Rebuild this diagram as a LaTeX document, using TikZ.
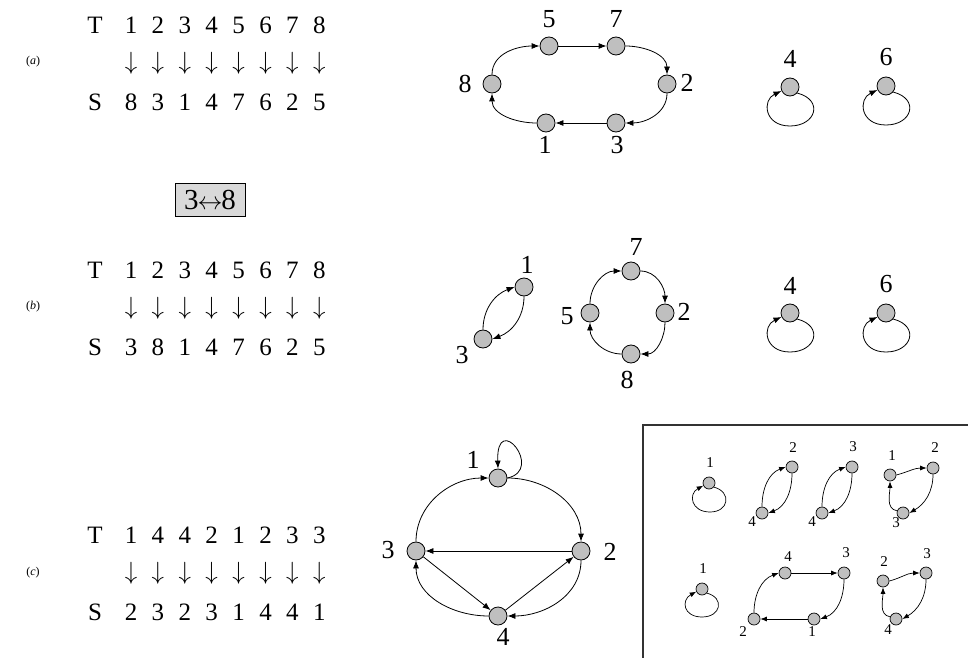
\documentclass[tikz,border=0pt]{standalone}
\usepackage{fontspec}
\setmainfont{Liberation Serif}
\usetikzlibrary{arrows.meta}

\tikzset{
  vtx/.style={circle, draw, line width=0.8pt, fill=gray!50, inner sep=0pt, minimum size=18pt},
  svtx/.style={circle, draw, line width=0.7pt, fill=gray!50, inner sep=0pt, minimum size=12pt},
  arr/.style={line width=0.8pt, -{Latex[length=8pt,width=6pt]}},
  sarr/.style={line width=0.7pt, -{Latex[length=6.5pt,width=5pt]}},
  lbl/.style={inner sep=0pt, font=\fontsize{26}{30}\selectfont},
  slbl/.style={inner sep=0pt, font=\fontsize{15}{18}\selectfont},
  tab/.style={inner sep=0pt, font=\fontsize{25}{30}\selectfont},
  darr/.style={inner sep=0pt, font=\fontsize{29}{32}\selectfont},
  tag/.style={inner sep=0pt, font=\fontsize{12}{14}\selectfont},
}

\newcommand\permrows[4]{%
  % #1 prefix, #2 y of top row, #3 top entries, #4 bottom entries
  \node[tab] (#1T) at (95,-#2) {T};
  \node[tab] (#1S) at (95,-#2-77) {S};
  \foreach \v [count=\i] in {#3} {
    \node[tab] (#1t\i) at ({131+26.9*(\i-1)},-#2) {\v};
    \node[darr] (#1a\i) at ({131+26.9*(\i-1)},-#2-38) {$\downarrow$};
  }
  \foreach \v [count=\i] in {#4} {
    \node[tab] (#1s\i) at ({131+26.9*(\i-1)},-#2-77) {\v};
  }
}

\begin{document}
\begin{tikzpicture}[x=1pt,y=1pt]
\useasboundingbox (0,0) rectangle (968,-658);

% ---------- tables ----------
\node[tag] (taga) at (33,-62) {(\textit{a})};
\permrows{ta}{25}{1,2,3,4,5,6,7,8}{8,3,1,4,7,6,2,5}
\node[draw, line width=0.8pt, fill=gray!30, minimum width=70pt, minimum height=33pt,
      inner sep=0pt, font=\fontsize{29}{32}\selectfont] (swap) at (210,-200)
      {3\kern-1pt$\leftrightarrow$\kern-1pt8};

\node[tag] (tagb) at (33,-307) {(\textit{b})};
\permrows{tb}{270}{1,2,3,4,5,6,7,8}{3,8,1,4,7,6,2,5}

\node[tag] (tagc) at (33,-573) {(\textit{c})};
\permrows{tc}{535}{1,4,4,2,1,2,3,3}{2,3,2,3,1,4,4,1}

% ---------- graph (a) ----------
\node[vtx] (a5) at (549,-46) {};
\node[vtx] (a7) at (616,-46) {};
\node[vtx] (a2) at (667,-84) {};
\node[vtx] (a3) at (616,-123) {};
\node[vtx] (a1) at (546,-123) {};
\node[vtx] (a8) at (492,-84) {};
\node[lbl] (la5) at (549,-19) {5};
\node[lbl] (la7) at (616,-19) {7};
\node[lbl] (la2) at (687,-83) {2};
\node[lbl] (la3) at (617,-145) {3};
\node[lbl] (la1) at (545,-145) {1};
\node[lbl] (la8) at (465,-84) {8};
\draw[arr] (a8.north) to[out=90,in=180] (a5.west);
\draw[arr] (a5) -- (a7);
\draw[arr] (a7.east) to[out=0,in=90] (a2.north);
\draw[arr] (a2.south) to[out=-90,in=0] (a3.east);
\draw[arr] (a3) -- (a1);
\draw[arr] (a1.west) to[out=180,in=-90] (a8.south);

\node[vtx] (a4) at (790,-87) {};
\node[lbl] (la4) at (790,-59) {4};
\draw[arr] (a4.-40) .. controls (824,-100) and (816,-126) .. (790,-126)
  .. controls (764,-126) and (762,-100) .. (a4.205);
\node[vtx] (a6) at (886,-86) {};
\node[lbl] (la6) at (886,-57) {6};
\draw[arr] (a6.-40) .. controls (920,-99) and (912,-125) .. (886,-125)
  .. controls (860,-125) and (858,-99) .. (a6.205);

% ---------- graph (b) ----------
\node[vtx] (b1) at (524,-287) {};
\node[vtx] (b3) at (483,-339) {};
\node[lbl] (lb1) at (527,-265) {1};
\node[lbl] (lb3) at (462,-355) {3};
\draw[arr] (b3.north) to[out=90,in=200] (b1.west);
\draw[arr] (b1.south) to[out=-90,in=20] (b3.east);

\node[vtx] (b7) at (631,-271) {};
\node[vtx] (b2) at (665,-313) {};
\node[vtx] (b8) at (631,-354) {};
\node[vtx] (b5) at (590,-313) {};
\node[lbl] (lb7) at (636,-247) {7};
\node[lbl] (lb2) at (684,-312) {2};
\node[lbl] (lb8) at (627,-380) {8};
\node[lbl] (lb5) at (567,-316) {5};
\draw[arr] (b5.north) to[out=90,in=180] (b7.west);
\draw[arr] (b7.east) to[out=0,in=90] (b2.north);
\draw[arr] (b2.south) to[out=-90,in=0] (b8.east);
\draw[arr] (b8.west) to[out=180,in=-90] (b5.south);

\node[vtx] (b4) at (790,-313) {};
\node[lbl] (lb4) at (790,-286) {4};
\draw[arr] (b4.-40) .. controls (824,-326) and (816,-352) .. (790,-352)
  .. controls (764,-352) and (762,-326) .. (b4.205);
\node[vtx] (b6) at (886,-313) {};
\node[lbl] (lb6) at (886,-284) {6};
\draw[arr] (b6.-40) .. controls (920,-326) and (912,-352) .. (886,-352)
  .. controls (860,-352) and (858,-326) .. (b6.205);

% ---------- graph (c) ----------
\node[vtx] (c1) at (498,-478) {};
\node[vtx] (c2) at (581,-551) {};
\node[vtx] (c3) at (416,-551) {};
\node[vtx] (c4) at (498,-616) {};
\node[lbl] (lc1) at (473,-460) {1};
\node[lbl] (lc2) at (610,-552) {2};
\node[lbl] (lc3) at (388,-550) {3};
\node[lbl] (lc4) at (503,-637) {4};
\draw[arr] (c1.east) .. controls (545,-470) and (496,-410) .. (c1.north);
\draw[arr] (c3.north) to[out=90,in=180] (c1.west);
\draw[arr] (c1.east) to[out=0,in=90] (c2.north);
\draw[arr] (c2) -- (c3);
\draw[arr] (c3) -- (c4);
\draw[arr] (c4) -- (c2);
\draw[arr] (c2.south) to[out=-90,in=0] (c4.east);
\draw[arr] (c4.west) to[out=180,in=-90] (c3.south);

% ---------- panel of cycle decompositions ----------
\draw[line width=1.2pt, black!80] (968,-425) -| (643,-658);

% first row
\node[svtx] (p1) at (709,-483) {};
\node[slbl] (lp1) at (710,-463) {1};
\draw[sarr] (p1.-40) .. controls (732,-492) and (729,-512) .. (710,-512)
  .. controls (691,-512) and (688,-494) .. (p1.205);

\node[svtx] (p2) at (792,-467) {};
\node[svtx] (p4) at (762,-513) {};
\node[slbl] (lp2) at (793,-448) {2};
\node[slbl] (lp4) at (752,-522) {4};
\draw[sarr] (p4.north) to[out=90,in=200] (p2.west);
\draw[sarr] (p2.south) to[out=-90,in=20] (p4.east);

\node[svtx] (q3) at (852,-467) {};
\node[svtx] (q4) at (822,-513) {};
\node[slbl] (lq3) at (853,-447) {3};
\node[slbl] (lq4) at (812,-522) {4};
\draw[sarr] (q4.north) to[out=90,in=200] (q3.west);
\draw[sarr] (q3.south) to[out=-90,in=20] (q4.east);

\node[svtx] (t1) at (890,-475) {};
\node[svtx] (t2) at (933,-468) {};
\node[svtx] (t3) at (903,-513) {};
\node[slbl] (lt1) at (892,-456) {1};
\node[slbl] (lt2) at (935,-448) {2};
\node[slbl] (lt3) at (896,-523) {3};
\draw[sarr] (t1.east) to[out=15,in=180] (t2.west);
\draw[sarr] (t2.south) to[out=-90,in=30] (t3.east);
\draw[sarr] (t3.160) to[out=170,in=-90] (t1.south);

% second row
\node[svtx] (r1) at (702,-589) {};
\node[slbl] (lr1) at (703,-569) {1};
\draw[sarr] (r1.-40) .. controls (725,-598) and (721,-617) .. (702,-617)
  .. controls (683,-617) and (681,-600) .. (r1.205);

\node[svtx] (u4) at (785,-573) {};
\node[svtx] (u3) at (844,-573) {};
\node[svtx] (u1) at (814,-619) {};
\node[svtx] (u2) at (754,-619) {};
\node[slbl] (lu4) at (788,-557) {4};
\node[slbl] (lu3) at (846,-553) {3};
\node[slbl] (lu1) at (812,-632) {1};
\node[slbl] (lu2) at (743,-632) {2};
\draw[sarr] (u4) -- (u3);
\draw[sarr] (u3.south) to[out=-90,in=20] (u1.east);
\draw[sarr] (u1) -- (u2);
\draw[sarr] (u2.north) to[out=90,in=200] (u4.west);

\node[svtx] (v2) at (883,-581) {};
\node[svtx] (v3) at (926,-573) {};
\node[svtx] (v4) at (896,-619) {};
\node[slbl] (lv2) at (884,-562) {2};
\node[slbl] (lv3) at (927,-554) {3};
\node[slbl] (lv4) at (888,-630) {4};
\draw[sarr] (v2.east) to[out=15,in=180] (v3.west);
\draw[sarr] (v3.south) to[out=-90,in=30] (v4.east);
\draw[sarr] (v4.160) to[out=170,in=-90] (v2.south);
\end{tikzpicture}
\end{document}
